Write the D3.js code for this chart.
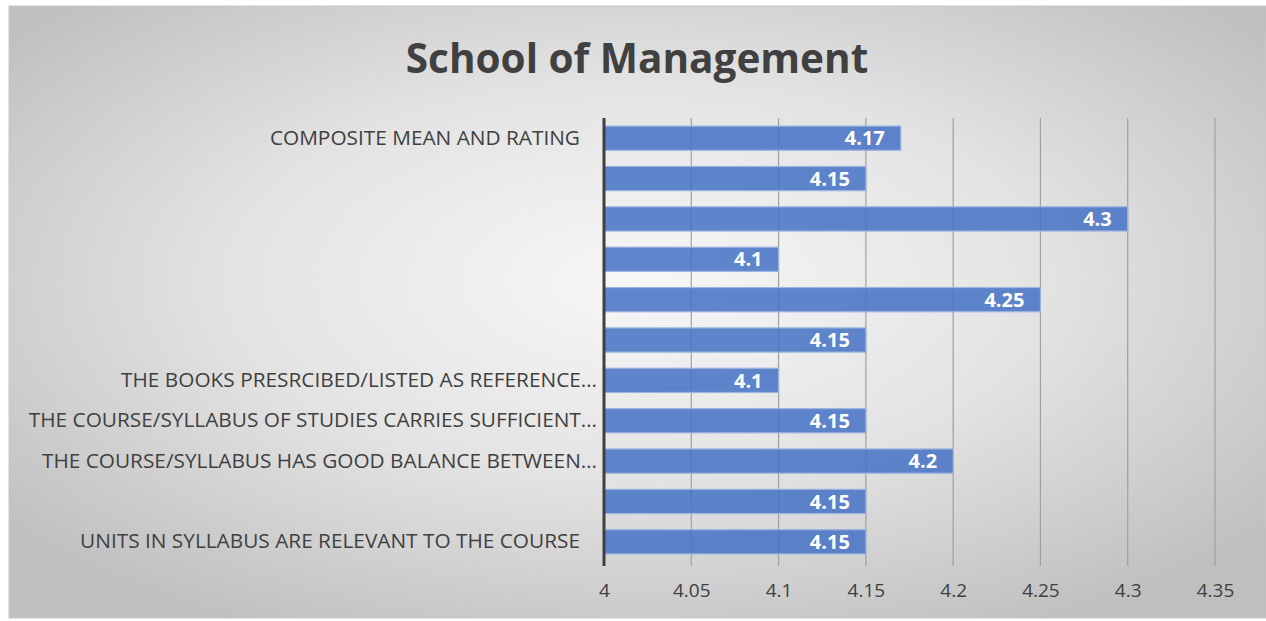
<!DOCTYPE html>
<html>
<head>
<meta charset="utf-8">
<script src="https://cdn.jsdelivr.net/npm/d3@7"></script>
<style>
  html, body { margin: 0; padding: 0; background: #fff; }
  svg { display: block; }
</style>
</head>
<body>
<svg id="chart"></svg>
<script>
// categories bottom to top, as in the sheet
const categories = [
  "UNITS IN SYLLABUS ARE RELEVANT TO THE COURSE",
  "",
  "THE COURSE/SYLLABUS HAS GOOD BALANCE BETWEEN…",
  "THE COURSE/SYLLABUS OF STUDIES CARRIES SUFFICIENT…",
  "THE BOOKS PRESRCIBED/LISTED AS REFERENCE…",
  "",
  "",
  "",
  "",
  "",
  "COMPOSITE MEAN AND RATING"
];
const values = [4.15, 4.15, 4.2, 4.15, 4.1, 4.15, 4.25, 4.1, 4.3, 4.15, 4.17];
const ticks = [4, 4.05, 4.1, 4.15, 4.2, 4.25, 4.3, 4.35];
const title = "School of Management";

const W = 1266, H = 621;
const svg = d3.select("#chart").attr("width", W).attr("height", H);

// background panel with soft radial gradient
const defs = svg.append("defs");
const grad = defs.append("radialGradient").attr("id", "bg")
  .attr("cx", "50%").attr("cy", "45%").attr("r", "65%");
grad.append("stop").attr("offset", "0%").attr("stop-color", "#f7f7f7");
grad.append("stop").attr("offset", "50%").attr("stop-color", "#e3e3e3");
grad.append("stop").attr("offset", "100%").attr("stop-color", "#bfbfbf");

svg.append("rect")
  .attr("x", 9).attr("y", 6).attr("width", W - 9).attr("height", H - 9)
  .attr("fill", "url(#bg)")
  .attr("stroke", "#c8c8c8");

svg.append("text")
  .attr("x", 637).attr("y", 73)
  .attr("text-anchor", "middle")
  .style("font-family", "'Open Sans', sans-serif")
  .style("font-weight", 700)
  .style("font-size", "40.5px")
  .style("fill", "#404040")
  .text(title);

const x = d3.scaleLinear().domain([4, 4.35]).range([604, 1215]);
const y = d3.scaleBand().domain(d3.range(categories.length))
  .range([562, 118]).paddingInner(0.4).paddingOuter(0.2);

// grid
svg.append("g").selectAll("line").data(ticks.slice(1)).join("line")
  .attr("x1", d => x(d)).attr("x2", d => x(d))
  .attr("y1", 118).attr("y2", 566)
  .attr("stroke", "#a0a0a0").attr("stroke-width", 1.2);

// bars
svg.append("g").selectAll("rect").data(values).join("rect")
  .attr("x", x(4))
  .attr("y", (d, i) => y(i))
  .attr("width", d => x(d) - x(4))
  .attr("height", y.bandwidth())
  .attr("fill", "#4472c4").attr("fill-opacity", 0.85)
  .attr("stroke", "#9db4e0").attr("stroke-width", 1.2);

// bar values
svg.append("g").selectAll("text").data(values).join("text")
  .attr("x", d => x(d) - 16)
  .attr("y", (d, i) => y(i) + y.bandwidth() / 2)
  .attr("dy", "0.36em")
  .attr("text-anchor", "end")
  .style("font-family", "'Open Sans', sans-serif")
  .style("font-weight", 700)
  .style("font-size", "20px")
  .style("fill", "#ffffff")
  .text(d => d);

// x axis
const xAxis = svg.append("g")
  .attr("transform", "translate(0,562)")
  .call(d3.axisBottom(x).tickValues(ticks).tickSize(0).tickPadding(22).tickFormat(d3.format("")));
xAxis.select(".domain").remove();
xAxis.selectAll("text")
  .style("font-family", "'Open Sans', sans-serif")
  .style("font-size", "19px")
  .style("fill", "#404040");

// y axis
const yAxis = svg.append("g")
  .attr("transform", "translate(604,0)")
  .call(d3.axisLeft(y).tickSize(0).tickPadding(24).tickFormat(i => categories[i]));
yAxis.select(".domain")
  .attr("d", "M0,118V566")
  .attr("stroke", "#404040").attr("stroke-width", 3);
yAxis.selectAll("text")
  .attr("x", i => categories[i].endsWith("…") ? -7 : -24)
  .style("font-family", "'Open Sans', sans-serif")
  .style("font-size", "20.8px")
  .style("fill", "#404040");
</script>
</body>
</html>
